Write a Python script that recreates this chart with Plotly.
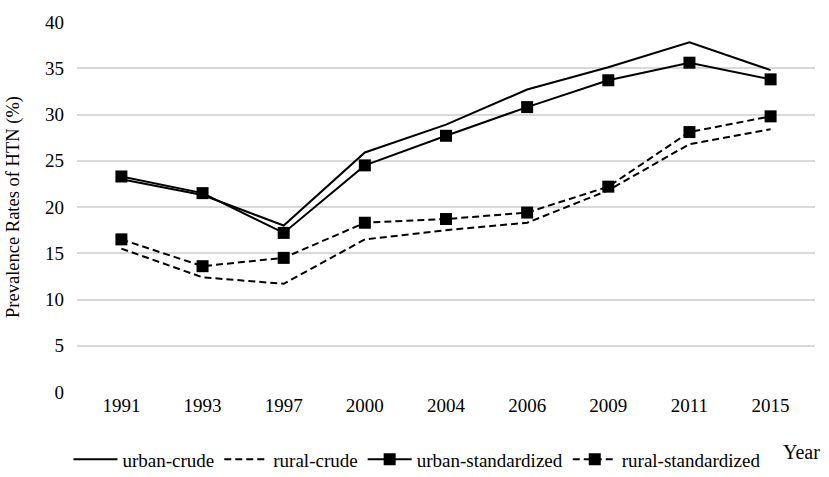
import plotly.graph_objects as go

years = ["1991", "1993", "1997", "2000", "2004", "2006", "2009", "2011", "2015"]
urban_crude = [23.0, 21.3, 18.0, 25.9, 28.9, 32.7, 35.1, 37.8, 34.8]
rural_crude = [15.5, 12.4, 11.7, 16.5, 17.5, 18.3, 21.8, 26.8, 28.4]
urban_std = [23.3, 21.5, 17.2, 24.5, 27.7, 30.8, 33.7, 35.6, 33.8]
rural_std = [16.5, 13.6, 14.5, 18.3, 18.7, 19.4, 22.2, 28.1, 29.8]

FONT = "Liberation Serif, Times New Roman, serif"
DASH = "7px,4px"

fig = go.Figure()
fig.add_trace(go.Scatter(x=years, y=urban_crude, name="urban-crude", mode="lines",
                         line=dict(color="black", width=2)))
fig.add_trace(go.Scatter(x=years, y=rural_crude, name="rural-crude", mode="lines",
                         line=dict(color="black", width=2, dash=DASH)))
fig.add_trace(go.Scatter(x=years, y=urban_std, name="urban-standardized", mode="lines+markers",
                         line=dict(color="black", width=2),
                         marker=dict(symbol="square", size=12, color="black")))
fig.add_trace(go.Scatter(x=years, y=rural_std, name="rural-standardized", mode="lines+markers",
                         line=dict(color="black", width=2, dash=DASH),
                         marker=dict(symbol="square", size=12, color="black")))

fig.update_layout(
    width=829, height=477,
    autosize=False,
    margin=dict(l=77, r=14, t=14, b=85, pad=0),
    paper_bgcolor="white", plot_bgcolor="white",
    font=dict(family=FONT, size=19, color="black"),
    showlegend=True,
    legend=dict(orientation="h", xref="container", yref="container",
                x=0.503, xanchor="center", y=0.037, yanchor="middle",
                font=dict(size=19), itemwidth=44, tracegroupgap=0),
    xaxis=dict(type="category", showgrid=False, showline=False, ticks="",
               tickfont=dict(size=19), automargin=False),
    yaxis=dict(range=[0, 40], dtick=5, showgrid=True, gridcolor="#d9d9d9", gridwidth=1.5,
               zeroline=False, showline=False, ticks="", tickfont=dict(size=19),
               ticklabelstandoff=12, automargin=True,
               title=dict(text="Prevalence Rates of HTN (%)", font=dict(size=18.5), standoff=20)),
    annotations=[dict(text="Year", x=1.0095, y=-0.162, xref="paper", yref="paper",
                      xanchor="right", yanchor="middle", showarrow=False,
                      font=dict(size=20, family=FONT))],
)

fig.write_html("out.html", config={"displayModeBar": False},
               post_script="document.body.style.margin='0';")
